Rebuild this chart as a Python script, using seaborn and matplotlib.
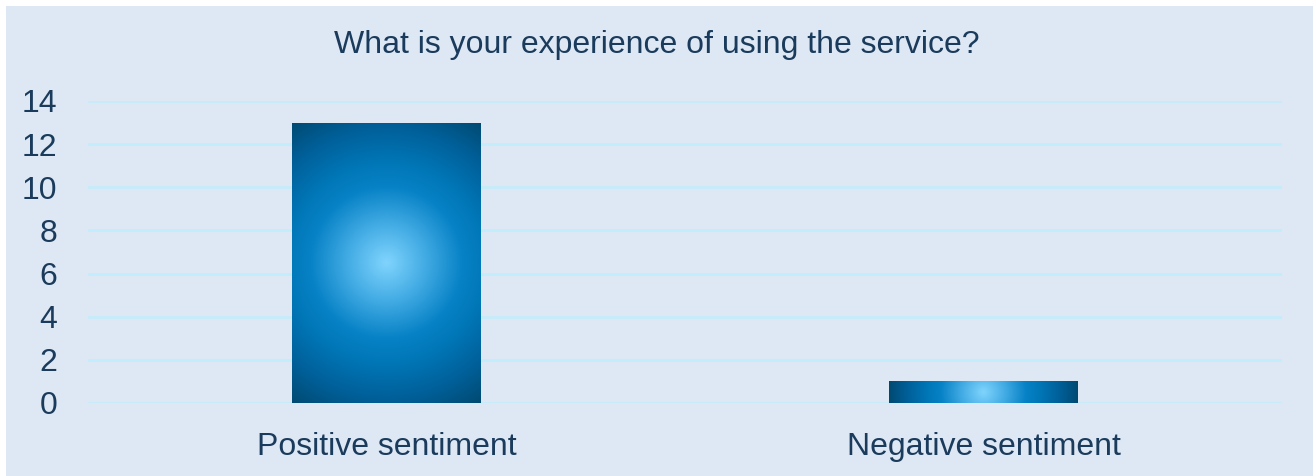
import numpy as np
import pandas as pd
import matplotlib.pyplot as plt
import seaborn as sns
from matplotlib.patches import Rectangle
from matplotlib.colors import LinearSegmentedColormap

# data
categories = ['Positive sentiment', 'Negative sentiment']
counts = [13, 1]
y_ticks = [0, 2, 4, 6, 8, 10, 12, 14]

df = pd.DataFrame({'sentiment': categories, 'count': counts})

bg = '#dde8f4'
txt = '#1b3b5c'
grid = '#c2edfc'

sns.set_theme(style='white')
plt.rcParams['font.family'] = ['Liberation Sans', 'DejaVu Sans']

fig = plt.figure(figsize=(13.13, 4.76), dpi=100, facecolor='white')
# panel background (small white border on top/left like the original)
fig.patches.append(Rectangle((6 / 1313, 0), 1 - 6 / 1313, 1 - 6 / 476,
                             transform=fig.transFigure, facecolor=bg,
                             edgecolor='none', zorder=-10))

ax = fig.add_axes([88 / 1313, 1 - 403 / 476, (1282 - 88) / 1313, (403 - 101) / 476])
ax.set_facecolor('none')

sns.barplot(data=df, x='sentiment', y='count', ax=ax, width=0.315,
            color='#0080c0', saturation=1, edgecolor='none', zorder=3)

ax.set_ylim(0, 14)
ax.set_xlim(-0.5, 1.5)
ax.set_yticks(y_ticks)
ax.yaxis.grid(True, color=grid, linewidth=1.8)
ax.set_axisbelow(True)
for s in ax.spines.values():
    s.set_visible(False)
ax.set_xlabel('')
ax.set_ylabel('')
ax.tick_params(axis='y', labelsize=23, labelcolor=txt, length=0, pad=22)
ax.tick_params(axis='x', labelsize=23, labelcolor=txt, length=0, pad=21)

# radial gradient fill for the bars (circular in pixels, radius = half diagonal)
cmap = LinearSegmentedColormap.from_list('bluegrad', [
    (0.0, '#80d4fd'), (0.22, '#45ade5'), (0.45, '#0782c6'),
    (0.6, '#0076b6'), (0.8, '#00609a'), (1.0, '#004a72')])
for bar in ax.patches:
    x0, y0 = bar.get_x(), bar.get_y()
    w, h = bar.get_width(), bar.get_height()
    (px0, py0), (px1, py1) = ax.transData.transform([(x0, y0), (x0 + w, y0 + h)])
    pw, ph = abs(px1 - px0), abs(py1 - py0)
    nx, ny = max(int(pw), 2), max(int(ph), 2)
    xs = np.linspace(-pw / 2, pw / 2, nx)
    ys = np.linspace(-ph / 2, ph / 2, ny)
    xx, yy = np.meshgrid(xs, ys)
    rr = np.sqrt(xx ** 2 + yy ** 2) / np.hypot(pw / 2, ph / 2)
    im = ax.imshow(rr, cmap=cmap, vmin=0, vmax=1, extent=(x0, x0 + w, y0, y0 + h),
                   origin='lower', aspect='auto', zorder=4, interpolation='bilinear')
    im.set_clip_path(bar)
    bar.set_facecolor('none')
ax.set_xlim(-0.5, 1.5)
ax.set_ylim(0, 14)

fig.text(0.5, 1 - 45 / 476, 'What is your experience of using the service?',
         ha='center', va='center', fontsize=23, color=txt)

fig.savefig('out.png', dpi=100, facecolor=fig.get_facecolor())
